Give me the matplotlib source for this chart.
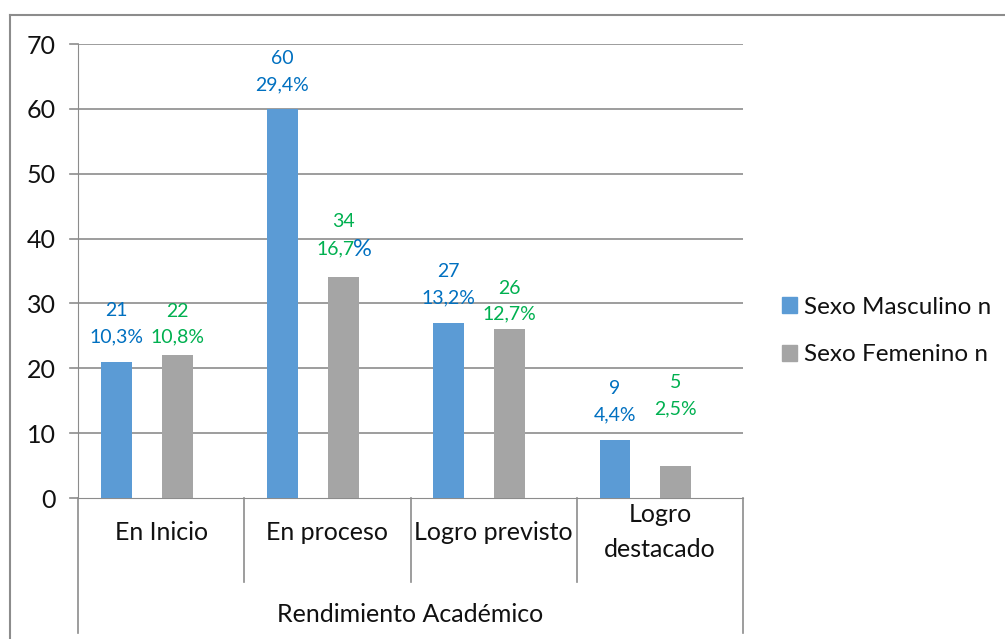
import matplotlib.pyplot as plt
from matplotlib.patches import Patch
from matplotlib.lines import Line2D

# Datos
categorias = ['En Inicio', 'En proceso', 'Logro previsto', 'Logro\ndestacado']
masculino = [21, 60, 27, 9]
femenino = [22, 34, 26, 5]
pct_masc = ['10,3%', '29,4%', '13,2%', '4,4%']
pct_fem = ['10,8%', '16,7%', '12,7%', '2,5%']
titulo_eje = 'Rendimiento Académico'
series = ['Sexo Masculino n', 'Sexo Femenino n']

# distancia (px) entre el tope de la barra y la primera línea de etiqueta
sep_masc = [51, 50, 51, 51]
sep_fem = [44, 56, 41, 83]

azul = '#5B9BD5'
gris = '#A5A5A5'
txt_azul = '#0070C0'
txt_verde = '#00B050'
linea = '#8C8C8C'

plt.rcParams['font.family'] = ['Lato', 'DejaVu Sans']

W, H = 1005, 639
fig = plt.figure(figsize=(W / 100, H / 100), dpi=100)
x0, x1, y0, y1 = 78, 743, 498, 44
ax = fig.add_axes([x0 / W, 1 - y0 / H, (x1 - x0) / W, (y0 - y1) / H])

pos = list(range(len(categorias)))
ancho = 0.186
pos_m = [p - 0.27 for p in pos]
pos_f = [p + 0.096 for p in pos]
ax.bar(pos_m, masculino, width=ancho, color=azul, zorder=3)
ax.bar(pos_f, femenino, width=ancho, color=gris, zorder=3)

ax.set_xlim(-0.5, len(categorias) - 0.5)
ax.set_ylim(0, 70)
ax.set_yticks(range(0, 71, 10))
ax.tick_params(axis='y', length=0, pad=16, labelsize=18, labelcolor='#111111')
ax.set_xticks([])
for s in ['top', 'right']:
    ax.spines[s].set_visible(False)
ax.spines['left'].set_color(linea)
ax.spines['bottom'].set_color(linea)
for v in range(10, 71, 10):
    ax.axhline(v, color=linea, lw=1.2, zorder=1)
# marcas de graduación hacia la izquierda
for v in range(0, 71, 10):
    ax.plot([-0.5 - 8 / 166.25, -0.5], [v, v], color=linea, lw=1.2, clip_on=False)

# etiquetas de datos
fs = 14
for i in pos:
    for xp, val, pct, sep, col in [(pos_m[i], masculino[i], pct_masc[i], sep_masc[i], txt_azul),
                                   (pos_f[i], femenino[i], pct_fem[i], sep_fem[i], txt_verde)]:
        ax.annotate(str(val), (xp, val), xytext=(0, sep), textcoords='offset pixels',
                    ha='center', va='center', color=col, fontsize=fs)
        if pct == '16,7%':
            ax.annotate('16,7', (xp, val), xytext=(-8, sep - 27), textcoords='offset pixels',
                        ha='center', va='center', color=col, fontsize=fs)
            ax.annotate('%', (xp, val), xytext=(19, sep - 28), textcoords='offset pixels',
                        ha='center', va='center', color=txt_azul, fontsize=fs + 3)
        else:
            ax.annotate(pct, (xp, val), xytext=(0, sep - 26), textcoords='offset pixels',
                        ha='center', va='center', color=col, fontsize=fs)

# eje de categorías multinivel
def fx(px):
    return px / W

def fy(py):
    return 1 - py / H

cw = (x1 - x0) / len(categorias)
for i in range(len(categorias) + 1):
    xs = x0 + i * cw
    bajo = 633 if i in (0, len(categorias)) else 582
    fig.add_artist(Line2D([fx(xs), fx(xs)], [fy(y0), fy(bajo)], color=linea, lw=1.2))
for i, c in enumerate(categorias):
    fig.text(fx(x0 + (i + 0.5) * cw), fy(532), c, ha='center', va='center',
             fontsize=18, linespacing=1.65, color='#111111')
fig.text(fx((x0 + x1) / 2), fy(614), titulo_eje, ha='center', va='center',
         fontsize=18, color='#111111')

# marco exterior
fig.add_artist(Line2D([fx(10), fx(10)], [fy(15), 0], color=linea, lw=1.5))
fig.add_artist(Line2D([fx(10), 1], [fy(15), fy(15)], color=linea, lw=1.5))

# leyenda
manejadores = [Patch(color=azul), Patch(color=gris)]
fig.legend(manejadores, series, loc='center left', bbox_to_anchor=(fx(782), fy(331)),
           frameon=False, handlelength=0.6, handleheight=0.6, borderpad=0,
           borderaxespad=0, handletextpad=0.3, labelspacing=1.1,
           prop={'size': 17.5}, labelcolor='#111111')

fig.savefig('out.png', dpi=100)
